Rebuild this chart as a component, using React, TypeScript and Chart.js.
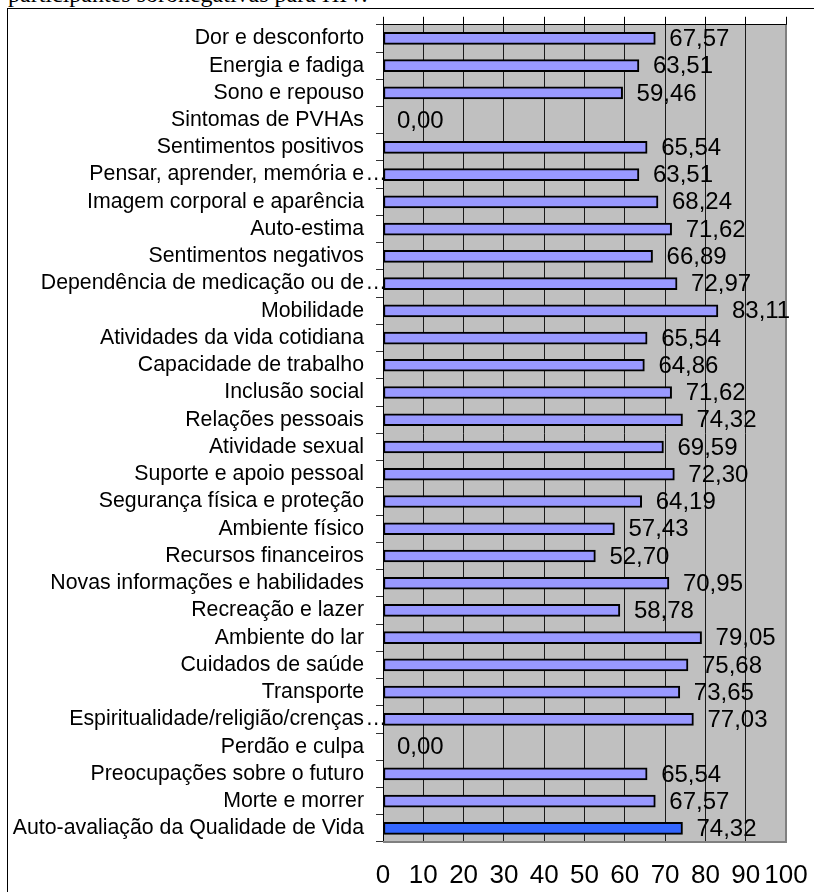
import React, { useEffect, useRef } from "react";
import { Chart, registerables } from "chart.js";

Chart.register(...registerables);

const TITLE = "participantes soronegativas para HIV.";

const categories = [
  "Dor e desconforto",
  "Energia e fadiga",
  "Sono e repouso",
  "Sintomas de PVHAs",
  "Sentimentos positivos",
  "Pensar, aprender, memória e…",
  "Imagem corporal e aparência",
  "Auto-estima",
  "Sentimentos negativos",
  "Dependência de medicação ou de…",
  "Mobilidade",
  "Atividades da vida cotidiana",
  "Capacidade de trabalho",
  "Inclusão social",
  "Relações pessoais",
  "Atividade sexual",
  "Suporte e apoio pessoal",
  "Segurança física e proteção",
  "Ambiente físico",
  "Recursos financeiros",
  "Novas informações e habilidades",
  "Recreação e lazer",
  "Ambiente do lar",
  "Cuidados de saúde",
  "Transporte",
  "Espiritualidade/religião/crenças…",
  "Perdão e culpa",
  "Preocupações sobre o futuro",
  "Morte e morrer",
  "Auto-avaliação da Qualidade de Vida",
];

const values = [
  67.57, 63.51, 59.46, 0.0, 65.54, 63.51, 68.24, 71.62, 66.89, 72.97, 83.11,
  65.54, 64.86, 71.62, 74.32, 69.59, 72.3, 64.19, 57.43, 52.7, 70.95, 58.78,
  79.05, 75.68, 73.65, 77.03, 0.0, 65.54, 67.57, 74.32,
];

const highlightCategory = "Auto-avaliação da Qualidade de Vida";
const xMin = 0;
const xMax = 100;
const xStep = 10;

const FONT = '"Liberation Sans", Arial, sans-serif';
const BAR_COLOR = "#9999FF";
const HIGHLIGHT_COLOR = "#3366FF";
const ELLIPSIS = "…";

export default function App() {
  const canvasRef = useRef<HTMLCanvasElement | null>(null);

  useEffect(() => {
    const canvas = canvasRef.current;
    if (!canvas) return;

    const plotFrame = {
      id: "plotFrame",
      beforeDraw(chart: any) {
        const { ctx, chartArea: a } = chart;
        ctx.save();
        ctx.fillStyle = "#C0C0C0";
        ctx.fillRect(a.left, a.top, a.right - a.left, a.bottom - a.top);
        ctx.restore();
      },
      beforeDatasetsDraw(chart: any) {
        const { ctx, chartArea: a } = chart;
        ctx.save();
        ctx.fillStyle = "#808080";
        ctx.fillRect(a.right - 1, a.top, 2, a.bottom - a.top + 1);
        ctx.fillRect(a.left, a.bottom - 1, a.right - a.left + 1, 2);
        ctx.restore();
      },
      afterDatasetsDraw(chart: any) {
        const { ctx } = chart;
        const meta = chart.getDatasetMeta(0);
        ctx.save();
        ctx.fillStyle = "#000";
        ctx.font = `24px ${FONT}`;
        ctx.textAlign = "left";
        ctx.textBaseline = "middle";
        meta.data.forEach((bar: any, i: number) => {
          const txt = values[i].toFixed(2).replace(".", ",");
          ctx.fillText(txt, bar.x + 14, bar.y + 1);
        });
        ctx.restore();
      },
      afterDraw(chart: any) {
        const { ctx, chartArea: a } = chart;
        const yScale = chart.scales.y;
        ctx.save();
        ctx.beginPath();
        ctx.rect(0, 0, a.left, chart.height);
        ctx.clip();
        ctx.fillStyle = "#000";
        ctx.font = `21.3px ${FONT}`;
        ctx.textAlign = "left";
        ctx.textBaseline = "middle";
        categories.forEach((c, i) => {
          if (c.endsWith(ELLIPSIS)) {
            ctx.fillText(ELLIPSIS, 365.5, yScale.getPixelForValue(i));
          }
        });
        ctx.restore();
      },
    };

    const chart = new Chart(canvas, {
      type: "bar",
      data: {
        labels: categories,
        datasets: [
          {
            data: values,
            backgroundColor: categories.map((c) =>
              c === highlightCategory ? HIGHLIGHT_COLOR : BAR_COLOR
            ),
            borderColor: "#000",
            borderWidth: 2,
            borderSkipped: false,
            barThickness: 12,
          },
        ],
      },
      options: {
        indexAxis: "y",
        responsive: false,
        animation: false,
        layout: { padding: { left: 0, top: 15, right: 28, bottom: 0 } },
        plugins: {
          legend: { display: false },
          tooltip: { enabled: false },
          title: { display: false },
        },
        scales: {
          x: {
            type: "linear",
            position: "bottom",
            min: xMin,
            max: xMax,
            ticks: {
              stepSize: xStep,
              autoSkip: false,
              color: "#000",
              font: { family: FONT, size: 26 },
              padding: 18,
              maxRotation: 0,
              minRotation: 0,
            },
            grid: {
              display: true,
              drawOnChartArea: true,
              drawTicks: false,
              color: "#1a1a1a",
              lineWidth: 1,
            },
            border: { display: false },
            afterFit(scale: any) {
              scale.height = 50;
              scale.paddingLeft = 0;
              scale.paddingRight = 0;
            },
          },
          x2: {
            type: "linear",
            position: "top",
            min: xMin,
            max: xMax,
            ticks: { stepSize: xStep, display: false, autoSkip: false },
            grid: {
              display: true,
              drawOnChartArea: false,
              drawTicks: true,
              tickLength: 8,
              color: "#000",
              lineWidth: 1,
            },
            border: { display: true, color: "#000", width: 1 },
            afterFit(scale: any) {
              scale.height = 8;
              scale.paddingLeft = 0;
              scale.paddingRight = 0;
            },
          },
          y: {
            type: "category",
            position: "left",
            offset: true,
            ticks: {
              autoSkip: false,
              color: "#000",
              font: { family: FONT, size: 21.3 },
              padding: 12,
              callback(this: any, value: any) {
                const label = String(this.getLabelForValue(value));
                return label.endsWith(ELLIPSIS) ? label.slice(0, -1) : label;
              },
            },
            grid: {
              display: true,
              offset: true,
              drawOnChartArea: false,
              drawTicks: true,
              tickLength: 7,
              color: "#333",
              lineWidth: 1,
            },
            border: { display: true, color: "#000", width: 1 },
            afterFit(scale: any) {
              scale.width = 383;
            },
          },
        },
      },
      plugins: [plotFrame],
    } as any);

    return () => {
      chart.destroy();
    };
  }, []);

  return (
    <div
      style={{
        position: "fixed",
        left: 0,
        top: 0,
        width: 814,
        height: 892,
        overflow: "hidden",
        background: "#fff",
      }}
    >
      <div
        style={{
          position: "absolute",
          left: 8,
          top: -18,
          fontFamily: '"Liberation Serif", "Times New Roman", serif',
          fontSize: 24,
          lineHeight: "24px",
          whiteSpace: "nowrap",
          color: "#000",
        }}
      >
        {TITLE}
      </div>
      <div
        style={{
          position: "absolute",
          left: 7,
          top: 8,
          width: 900,
          height: 1000,
          borderLeft: "1px solid #000",
          borderTop: "1px solid #000",
        }}
      />
      <canvas
        ref={canvasRef}
        width={814}
        height={892}
        style={{ position: "absolute", left: 0, top: 0, width: 814, height: 892 }}
      />
    </div>
  );
}
